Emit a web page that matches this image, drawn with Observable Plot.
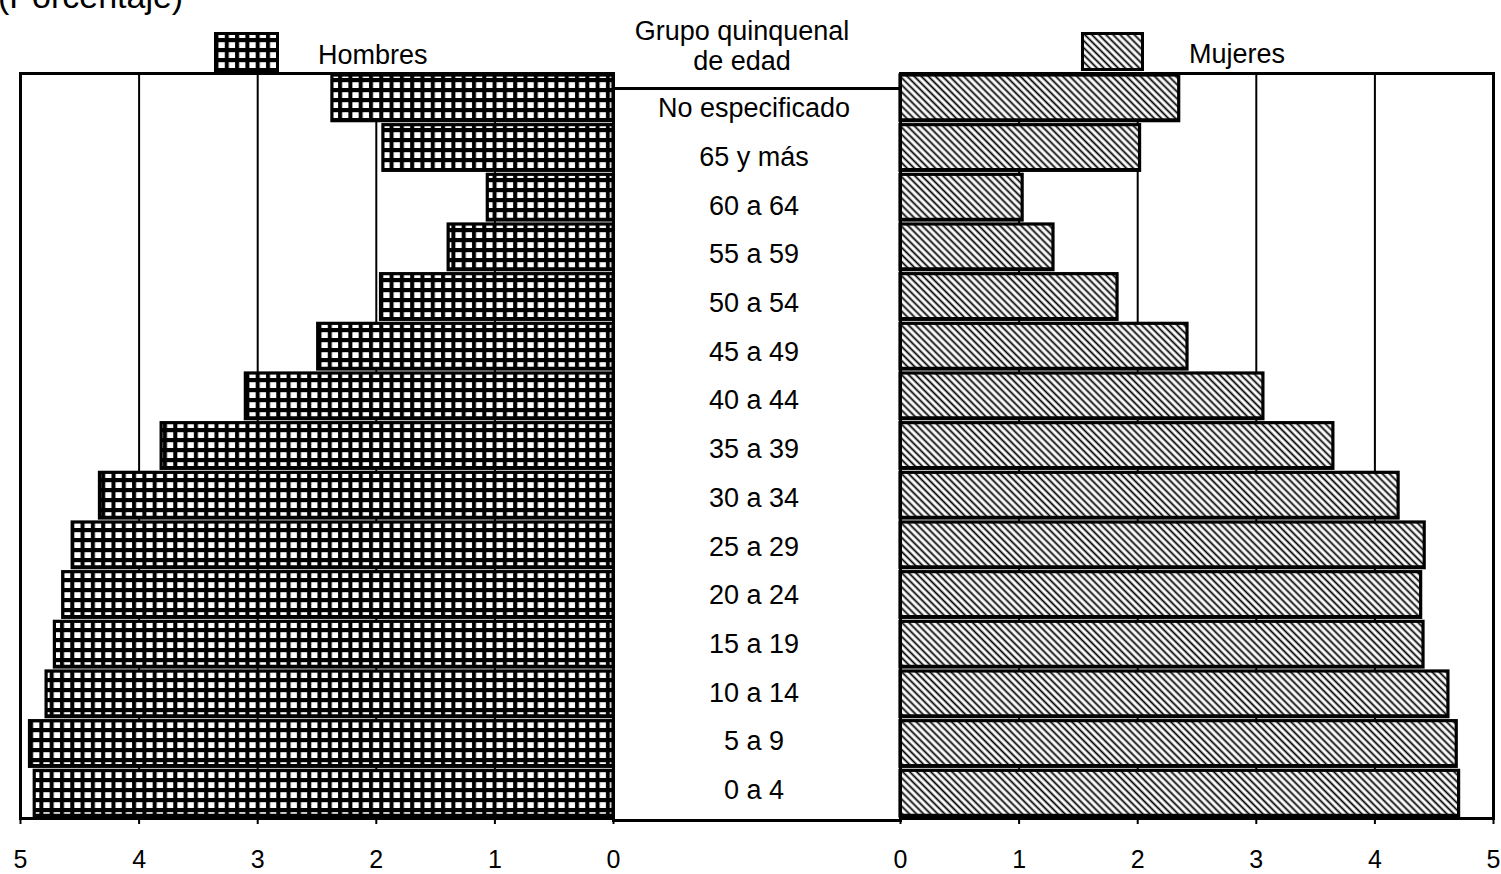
<!DOCTYPE html>
<html>
<head>
<meta charset="utf-8">
<script src="https://cdn.jsdelivr.net/npm/d3@7"></script>
<script src="https://cdn.jsdelivr.net/npm/@observablehq/plot@0.6"></script>
<style>
  html, body { margin: 0; padding: 0; background: white; }
  #wrap { position: relative; width: 1501px; height: 874px; overflow: hidden; background: white;
          font-family: "Liberation Sans", Arial, Helvetica, sans-serif; color: black; }
  #wrap svg.layer { position: absolute; left: 0; top: 0; }
  .txt { position: absolute; font-size: 27px; line-height: 30px; white-space: nowrap; }
</style>
</head>
<body>
<svg width="0" height="0" style="position:absolute">
  <defs>
    <pattern id="grid" patternUnits="userSpaceOnUse" width="10.3" height="10">
      <rect width="10.3" height="10" fill="black"></rect>
      <rect x="2.2" y="2.2" width="6.3" height="5.8" fill="white"></rect>
    </pattern>
    <pattern id="hatch" patternUnits="userSpaceOnUse" width="5" height="5" patternTransform="rotate(-45)">
      <rect width="5" height="5" fill="white"></rect>
      <line x1="2.5" y1="-1" x2="2.5" y2="6" stroke="black" stroke-width="1.8"></line>
    </pattern>
  </defs>
</svg>
<div id="wrap"></div>
<script>
const categories = ["No especificado","65 y más","60 a 64","55 a 59","50 a 54","45 a 49","40 a 44","35 a 39","30 a 34","25 a 29","20 a 24","15 a 19","10 a 14","5 a 9","0 a 4"];
const hombres = [2.37,1.94,1.06,1.39,1.96,2.49,3.10,3.81,4.33,4.56,4.64,4.71,4.78,4.92,4.88];
const mujeres = [2.35,2.02,1.03,1.29,1.83,2.42,3.06,3.65,4.20,4.42,4.39,4.41,4.62,4.69,4.71];
const xTicks = [0,1,2,3,4,5];
const gridTicks = [1,2,3,4];

const data = categories.map((g, i) => ({grupo: g, hombres: hombres[i], mujeres: mujeres[i]}));

const W = 1501, H = 874;
const font = "'Liberation Sans', Arial, Helvetica, sans-serif";
const baseStyle = {background: "transparent", overflow: "visible", fontFamily: font, fontSize: "26px", color: "black"};

function panel(field, fill, mLeft, mRight, reverse) {
  return Plot.plot({
    width: W, height: H,
    marginLeft: mLeft, marginRight: mRight, marginTop: 73, marginBottom: H - 818,
    style: baseStyle,
    x: {domain: [0, 5], reverse, label: null},
    y: {domain: categories, paddingInner: 0.08, paddingOuter: 0.04, round: false, axis: null},
    marks: [
      Plot.gridX(gridTicks, {stroke: "black", strokeOpacity: 1, strokeWidth: 2}),
      Plot.barX(data, {x: field, y: "grupo", fill, stroke: "black", strokeWidth: 3.2}),
      Plot.ruleY(data, {x1: 0, x2: field, y: "grupo", dy: 21.5, stroke: "black", strokeWidth: 3}),
      Plot.frame({stroke: "black", strokeWidth: 3}),
      Plot.axisX(xTicks, {tickSize: 6, tickPadding: 26, fontSize: 25, tickFormat: d => String(d), strokeWidth: 2, fill: "black", label: null})
    ]
  });
}

const wrap = document.getElementById("wrap");

const left = panel("hombres", "url(#grid)", 20, W - 613, true);
const right = panel("mujeres", "url(#hatch)", 900, W - 1493, false);

const centerBox = Plot.plot({
  width: W, height: H,
  marginLeft: 613, marginRight: W - 900, marginTop: 88, marginBottom: H - 820,
  style: baseStyle,
  marks: [Plot.frame({stroke: "black", strokeWidth: 3})]
});

const centerLabels = Plot.plot({
  width: W, height: H,
  marginLeft: 613, marginRight: W - 900, marginTop: 83.6, marginBottom: H - 814.4,
  style: baseStyle,
  y: {type: "band", domain: categories, padding: 0, round: false, axis: null},
  marks: [Plot.text(categories, {y: d => d, frameAnchor: "middle", dx: -3, fontSize: 27, fill: "black"})]
});

for (const el of [left, right, centerBox, centerLabels]) {
  el.classList.add("layer");
  wrap.appendChild(el);
}

// legend + header (outside the plot areas)
const ns = "http://www.w3.org/2000/svg";
const leg = document.createElementNS(ns, "svg");
leg.setAttribute("class", "layer");
leg.setAttribute("width", W);
leg.setAttribute("height", H);
leg.innerHTML = `
  <rect x="215.5" y="33.5" width="62" height="39" fill="url(#grid)" stroke="black" stroke-width="3"></rect>
  <rect x="1082.5" y="33.5" width="60" height="36" fill="url(#hatch)" stroke="black" stroke-width="3"></rect>
  <text x="-2" y="8" font-family="${font}" font-size="34" fill="black">(Porcentaje)</text>
`;
wrap.appendChild(leg);

function addText(str, x, y, align) {
  const d = document.createElement("div");
  d.className = "txt";
  d.textContent = str;
  d.style.left = x + "px";
  d.style.top = y + "px";
  if (align === "center") d.style.transform = "translateX(-50%)";
  wrap.appendChild(d);
}
addText("Hombres", 318, 40);
addText("Mujeres", 1189, 39);
addText("Grupo quinquenal", 742, 16, "center");
addText("de edad", 742, 46, "center");
</script>
</body>
</html>
